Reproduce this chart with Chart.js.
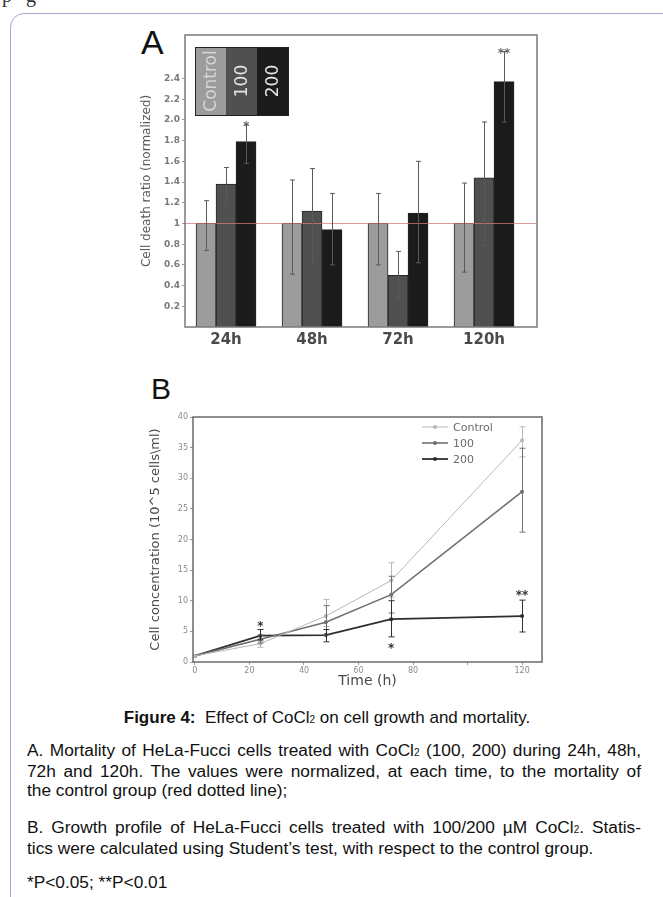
<!DOCTYPE html>
<html><head><meta charset="utf-8">
<script src="https://cdn.jsdelivr.net/npm/chart.js@4/dist/chart.umd.min.js"></script>
<style>
html,body{margin:0;padding:0;background:#fff;width:663px;height:897px;overflow:hidden;position:relative;font-family:"Liberation Sans",Arial,sans-serif;}
#frame{position:absolute;left:10px;top:13px;width:700px;height:950px;border:1px solid #a7a7d2;border-radius:14px;}
#cA{position:absolute;left:100px;top:20px;}
#cB{position:absolute;left:100px;top:400px;}
.lbl{position:absolute;font-family:"Liberation Sans",Arial,sans-serif;line-height:1;color:#111;}
.cap{position:absolute;left:5px;width:644px;text-align:center;font-size:17px;line-height:19px;top:708px;color:#111;}
.para{position:absolute;left:27px;width:614px;font-size:17.3px;line-height:19px;color:#111;}
.para .ln{display:block;text-align:justify;text-align-last:justify;white-space:nowrap;}
.para .ln.last{text-align-last:left;}
.sb{font-size:10px;}
#frag{position:absolute;left:2px;top:-16px;font-family:"Liberation Serif",serif;font-size:20px;color:#333;letter-spacing:14px;}
</style>
</head><body>
<div id="frag">pg</div>
<div id="frame"></div>
<div class="lbl" style="left:141px;top:25px;font-size:34px;">A</div>
<div class="lbl" style="left:151px;top:374px;font-size:30px;">B</div>
<canvas id="cA" width="460" height="340"></canvas>
<canvas id="cB" width="460" height="300"></canvas>
<div class="cap"><b>Figure 4:</b>&nbsp; Effect of CoCl<span class="sb">2</span> on cell growth and mortality.</div>
<div class="para" style="top:741px;">
<div class="ln">A. Mortality of HeLa-Fucci cells treated with CoCl<span class="sb">2</span> (100, 200) during 24h, 48h,</div>
<div class="ln">72h and 120h. The values were normalized, at each time, to the mortality of</div>
<div class="ln last">the control group (red dotted line);</div>
</div>
<div class="para" style="top:818px;">
<div class="ln">B. Growth profile of HeLa-Fucci cells treated with 100/200 µM CoCl<span class="sb">2</span>. Statis-</div>
<div class="ln last">tics were calculated using Student’s test, with respect to the control group.</div>
</div>
<div class="para" style="top:873px;">
<div class="ln last">*P&lt;0.05; **P&lt;0.01</div>
</div>
<script>
// ---------- Data: panel A ----------
const categoriesA = ['24h', '48h', '72h', '120h'];
const seriesNamesA = ['Control', '100', '200'];
const controlA = [1, 1, 1, 1];
const conc100A = [1.38, 1.12, 0.50, 1.44];
const conc200A = [1.79, 0.94, 1.10, 2.37];
const controlLowA = [0.74, 0.51, 0.60, 0.53];
const controlHighA = [1.22, 1.42, 1.29, 1.39];
const c100LowA = [1.19, 0.61, 0.28, 0.79];
const c100HighA = [1.54, 1.53, 0.73, 1.98];
const c200LowA = [1.58, 0.60, 0.62, 1.98];
const c200HighA = [1.95, 1.29, 1.60, 2.66];
const yTicksA = [0.2, 0.4, 0.6, 0.8, 1, 1.2, 1.4, 1.6, 1.8, 2.0, 2.2, 2.4];
const yTickLabelsA = ['0.2', '0.4', '0.6', '0.8', '1', '1.2', '1.4', '1.6', '1.8', '2.0', '2.2', '2.4'];
const starsA = [{cat: 0, series: 2, text: '*'}, {cat: 3, series: 2, text: '**'}];
const refLineA = 1;

// ---------- Data: panel B ----------
const seriesNamesB = ['Control', '100', '200'];
const timesB = [0, 24, 48, 72, 120];
const controlB = [1, 3.0, 7.5, 13.3, 36.2];
const conc100B = [1, 3.7, 6.5, 11.0, 27.8];
const conc200B = [1, 4.3, 4.4, 7.0, 7.5];
const controlLowB = [null, 2.4, 5.8, 10.6, 33.5];
const controlHighB = [null, 3.4, 10.2, 16.2, 38.4];
const c100LowB = [null, 3.1, 4.4, 8.0, 21.2];
const c100HighB = [null, 4.4, 9.2, 14.0, 34.9];
const c200LowB = [null, 3.6, 3.3, 4.1, 4.9];
const c200HighB = [null, 5.3, 5.3, 10.0, 10.1];
const xTicksB = [0, 20, 40, 60, 80, 100, 120];
const xTickLabelsB = ['0', '20', '40', '60', '80', '', '120'];
const yTicksB = [0, 5, 10, 15, 20, 25, 30, 35, 40];
const starsB = [{x: 24, y: 6.3, text: '*'}, {x: 72, y: 2.6, text: '*'}, {x: 120, y: 11.3, text: '**'}];

const FONT = '"DejaVu Sans", sans-serif';

const frameBox = {
  id: 'frameBox',
  afterDraw(chart, args, opts) {
    const a = chart.chartArea, ctx = chart.ctx;
    ctx.save();
    ctx.strokeStyle = opts.color || '#777';
    ctx.lineWidth = opts.width || 1.5;
    ctx.strokeRect(a.left, a.top, a.right - a.left, a.bottom - a.top);
    ctx.restore();
  }
};

function drawErr(ctx, x, y1, y2, cap) {
  ctx.beginPath();
  ctx.moveTo(x, y1); ctx.lineTo(x, y2);
  ctx.moveTo(x - cap, y1); ctx.lineTo(x + cap, y1);
  ctx.moveTo(x - cap, y2); ctx.lineTo(x + cap, y2);
  ctx.stroke();
}

// ---------- Chart A ----------
const lowsA = [controlLowA, c100LowA, c200LowA];
const highsA = [controlHighA, c100HighA, c200HighA];
const pluginA = {
  id: 'extrasA',
  afterDatasetsDraw(chart) {
    const ctx = chart.ctx, ys = chart.scales.y, a = chart.chartArea;
    ctx.save();
    const yr = Math.round(ys.getPixelForValue(refLineA)) + 0.5;
    ctx.strokeStyle = 'rgba(215,120,120,0.75)';
    ctx.lineWidth = 1;
    ctx.beginPath(); ctx.moveTo(a.left, yr); ctx.lineTo(a.right, yr); ctx.stroke();
    ctx.strokeStyle = '#5a5a5a';
    ctx.lineWidth = 1;
    for (let s = 0; s < 3; s++) {
      const meta = chart.getDatasetMeta(s);
      meta.data.forEach((el, j) => {
        drawErr(ctx, Math.round(el.x) + 0.5, ys.getPixelForValue(lowsA[s][j]), ys.getPixelForValue(highsA[s][j]), 2.5);
      });
    }
    ctx.fillStyle = '#666';
    ctx.font = 'bold 12px ' + FONT;
    ctx.textAlign = 'center';
    ctx.textBaseline = 'alphabetic';
    starsA.forEach(st => {
      const el = chart.getDatasetMeta(st.series).data[st.cat];
      const yh = ys.getPixelForValue(highsA[st.series][st.cat]);
      ctx.fillText(st.text, el.x, yh + 5);
    });
    // legend boxes
    const lx = a.left + 10, ly = a.top + 12, cw = 31, chh = 68;
    chart.data.datasets.forEach((ds, i) => {
      ctx.fillStyle = ds.backgroundColor;
      ctx.fillRect(lx + i * cw, ly, cw, chh);
    });
    ctx.strokeStyle = '#222';
    ctx.lineWidth = 1;
    ctx.strokeRect(lx + 0.5, ly + 0.5, cw * 3, chh);
    ctx.font = '17px ' + FONT;
    ctx.textAlign = 'center';
    ctx.textBaseline = 'middle';
    seriesNamesA.forEach((n, i) => {
      ctx.save();
      ctx.translate(lx + i * cw + cw / 2 + 1, ly + chh / 2);
      ctx.rotate(-Math.PI / 2);
      ctx.fillStyle = i === 0 ? '#d6d6d6' : '#e4e4e4';
      ctx.fillText(n, 0, 0);
      ctx.restore();
    });
    ctx.restore();
  }
};

const barColorsA = ['#9c9c9c', '#505050', '#1b1b1b'];
const valsA = [controlA, conc100A, conc200A];
new Chart(document.getElementById('cA'), {
  type: 'bar',
  data: {
    datasets: valsA.map((v, s) => ({
      label: seriesNamesA[s],
      data: categoriesA.map((c, i) => ({x: i + 1, y: v[i]})),
      backgroundColor: barColorsA[s],
      borderColor: '#262626',
      borderWidth: 1,
      barThickness: 20
    }))
  },
  options: {
    responsive: false,
    animation: false,
    events: [],
    layout: {padding: {left: 36, top: 15, right: 23, bottom: 8}},
    plugins: {legend: {display: false}, tooltip: {enabled: false}, frameBox: {color: '#7a7a7a', width: 1.5}},
    scales: {
      x: {
        type: 'linear', min: 0.523, max: 4.616, offset: false,
        grid: {display: false, drawTicks: false}, border: {display: false},
        afterBuildTicks: sc => { sc.ticks = categoriesA.map((c, i) => ({value: i + 1})); },
        afterFit: sc => { sc.height = 25; },
        ticks: {autoSkip: false, maxRotation: 0, padding: 4, color: '#4a4a4a',
          font: {family: FONT, size: 15, weight: 'bold'},
          callback: v => categoriesA[Math.round(v) - 1]}
      },
      y: {
        min: 0, max: 2.82,
        grid: {drawOnChartArea: false, tickLength: 3, color: '#999'},
        border: {display: false},
        afterBuildTicks: sc => { sc.ticks = yTicksA.map(v => ({value: v})); },
        afterFit: sc => { sc.width = 49; },
        ticks: {autoSkip: false, padding: 2, color: '#7a7a7a', font: {family: FONT, size: 9, weight: 'bold'},
          callback: (v, i) => yTickLabelsA[i]},
        title: {display: true, text: 'Cell death ratio (normalized)', color: '#5a5a5a',
          font: {family: FONT, size: 12}, padding: {top: 4, bottom: 4}}
      }
    }
  },
  plugins: [frameBox, pluginA]
});

// ---------- Chart B ----------
const lowsB = [controlLowB, c100LowB, c200LowB];
const highsB = [controlHighB, c100HighB, c200HighB];
const lineColorsB = ['#b8b8b8', '#707070', '#2e2e2e'];
const lineWidthsB = [1, 1.6, 1.8];
const valsB = [controlB, conc100B, conc200B];
const pluginB = {
  id: 'extrasB',
  afterDatasetsDraw(chart) {
    const ctx = chart.ctx, xs = chart.scales.x, ys = chart.scales.y, a = chart.chartArea;
    ctx.save();
    for (let s = 0; s < 3; s++) {
      ctx.strokeStyle = lineColorsB[s];
      ctx.lineWidth = 1;
      timesB.forEach((t, j) => {
        if (lowsB[s][j] == null) return;
        drawErr(ctx, Math.round(xs.getPixelForValue(t)) + 0.5, ys.getPixelForValue(lowsB[s][j]), ys.getPixelForValue(highsB[s][j]), 3);
      });
    }
    ctx.fillStyle = '#333';
    ctx.font = 'bold 12px ' + FONT;
    ctx.textAlign = 'center';
    ctx.textBaseline = 'middle';
    starsB.forEach(st => ctx.fillText(st.text, xs.getPixelForValue(st.x), ys.getPixelForValue(st.y) + 3));
    // legend
    const lx = a.right - 120, ly = a.top + 10;
    ctx.font = '11px ' + FONT;
    ctx.textAlign = 'left';
    seriesNamesB.forEach((n, i) => {
      const y = ly + i * 16;
      ctx.strokeStyle = lineColorsB[i];
      ctx.lineWidth = lineWidthsB[i];
      ctx.beginPath(); ctx.moveTo(lx, y); ctx.lineTo(lx + 26, y); ctx.stroke();
      ctx.fillStyle = lineColorsB[i];
      ctx.beginPath(); ctx.arc(lx + 13, y, 2, 0, Math.PI * 2); ctx.fill();
      ctx.fillStyle = '#6a6a6a';
      ctx.fillText(n, lx + 31, y + 1);
    });
    ctx.restore();
  }
};

new Chart(document.getElementById('cB'), {
  type: 'line',
  data: {
    datasets: valsB.map((v, s) => ({
      label: seriesNamesB[s],
      data: timesB.map((t, i) => ({x: t, y: v[i]})),
      borderColor: lineColorsB[s],
      backgroundColor: lineColorsB[s],
      borderWidth: lineWidthsB[s],
      pointRadius: 2,
      pointBorderWidth: 0,
      tension: 0,
      fill: false
    }))
  },
  options: {
    responsive: false,
    animation: false,
    events: [],
    layout: {padding: {left: 44, top: 17, right: 18, bottom: 0}},
    plugins: {legend: {display: false}, tooltip: {enabled: false}, frameBox: {color: '#6a6a6a', width: 1.5}},
    scales: {
      x: {
        type: 'linear', min: -0.7, max: 127.3,
        grid: {drawOnChartArea: false, tickLength: 3, color: '#999'},
        border: {display: false},
        afterBuildTicks: sc => { sc.ticks = xTicksB.map(v => ({value: v})); },
        afterFit: sc => { sc.height = 38; },
        ticks: {autoSkip: false, maxRotation: 0, padding: 1, color: '#8a8a8a', font: {family: FONT, size: 8},
          callback: (v, i) => xTickLabelsB[i]},
        title: {display: true, text: 'Time (h)', color: '#4a4a4a', font: {family: FONT, size: 14},
          padding: {top: 0, bottom: 10}}
      },
      y: {
        type: 'linear', min: 0, max: 40,
        grid: {drawOnChartArea: false, tickLength: 3, color: '#999'},
        border: {display: false},
        afterBuildTicks: sc => { sc.ticks = yTicksB.map(v => ({value: v})); },
        afterFit: sc => { sc.width = 49; },
        ticks: {autoSkip: false, padding: 2, color: '#8a8a8a', font: {family: FONT, size: 8},
          callback: v => String(v)},
        title: {display: true, text: 'Cell concentration (10^5 cells\\ml)', color: '#4a4a4a',
          font: {family: FONT, size: 13}, padding: {top: 4, bottom: 4}}
      }
    }
  },
  plugins: [frameBox, pluginB]
});
</script>
</body></html>
